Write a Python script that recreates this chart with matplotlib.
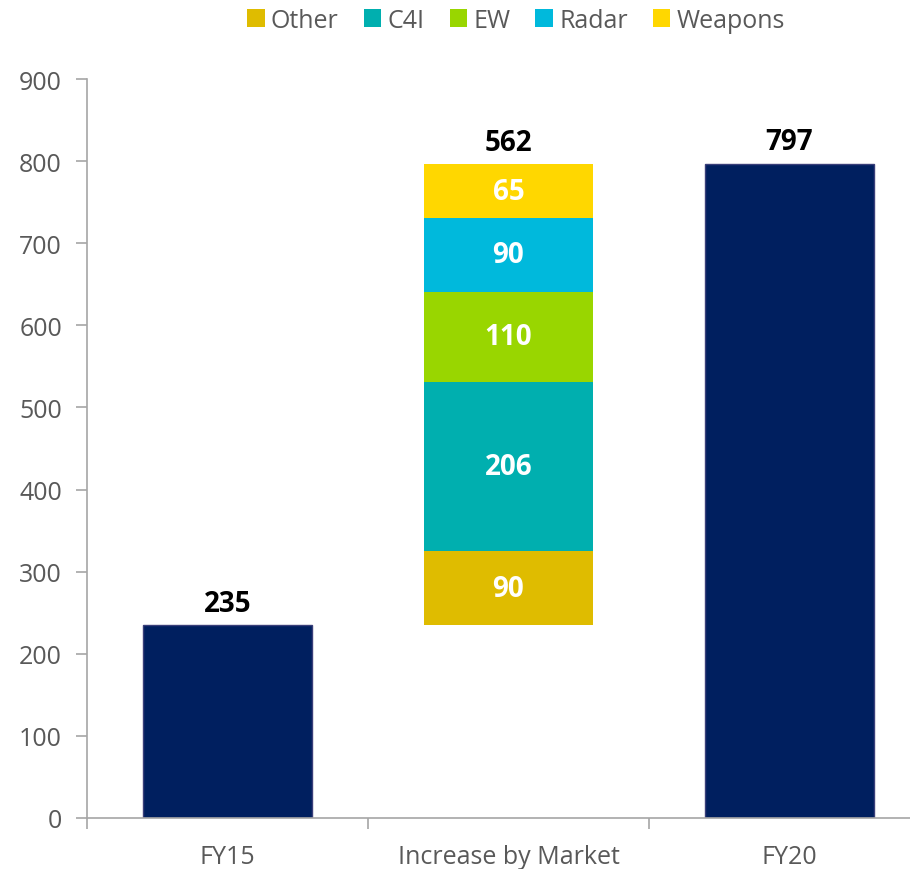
import numpy as np
import matplotlib
matplotlib.use("Agg")
import matplotlib.pyplot as plt
from matplotlib.patches import Patch

plt.rcParams['font.family'] = ['Open Sans', 'DejaVu Sans']

categories = ["FY15", "Increase by Market", "FY20"]
start_value = 235
end_value = 797
total_increase = 562

markets = ["Other", "C4I", "EW", "Radar", "Weapons"]
market_values = [90, 206, 110, 90, 65]
market_colors = ["#DFBC00", "#00AFAF", "#99D600", "#00B9DC", "#FFD700"]

navy = "#001F5F"
grey = "#A6A6A6"
text_grey = "#595959"

fig = plt.figure(figsize=(9.1, 8.7), dpi=100)
ax = fig.add_axes([87 / 910, 51 / 870, 843 / 910, 739 / 870])

x = np.arange(len(categories))
width = 0.6

# end points of the waterfall
ax.bar(x[0], start_value, width, color=navy, edgecolor="#3A3F7A", linewidth=1)
ax.bar(x[2], end_value, width, color=navy, edgecolor="#3A3F7A", linewidth=1)

# stacked increase, floating on top of FY15
bottom = start_value
for name, val, col in zip(markets, market_values, market_colors):
    ax.bar(x[1], val, width, bottom=bottom, color=col, label=name)
    ax.text(x[1], bottom + val / 2, str(val), ha="center", va="center",
            color="white", fontsize=20, fontweight="bold")
    bottom += val

label_kw = dict(ha="center", va="bottom", fontsize=20, fontweight="bold", color="black")
ax.text(x[0], start_value + 9, str(start_value), **label_kw)
ax.text(x[1], bottom + 9, str(total_increase), **label_kw)
ax.text(x[2], end_value + 9, str(end_value), **label_kw)

ax.set_xlim(-0.5, 2.5)
ax.set_ylim(0, 900)
ax.set_yticks(np.arange(0, 901, 100))

# category labels sit between boundary ticks
ax.set_xticks([-0.5, 0.5, 1.5, 2.5])
ax.set_xticklabels([])
ax.set_xticks(x, minor=True)
ax.set_xticklabels(categories, minor=True)
ax.tick_params(axis="x", which="minor", length=0, pad=19, labelsize=18, labelcolor=text_grey)
ax.tick_params(axis="x", which="major", length=8, color=grey, width=1.2)
ax.tick_params(axis="y", length=8, color=grey, width=1.2, labelsize=18,
               labelcolor=text_grey, pad=10)

for side in ["top", "right"]:
    ax.spines[side].set_visible(False)
for side in ["left", "bottom"]:
    ax.spines[side].set_color(grey)
    ax.spines[side].set_linewidth(1.2)

handles = [Patch(facecolor=c, label=m) for m, c in zip(markets, market_colors)]
fig.legend(handles=handles, loc="center", bbox_to_anchor=(516 / 910, 1 - 21 / 870),
           ncol=5, frameon=False, fontsize=18, handlelength=0.7, handleheight=0.7,
           handletextpad=0.25, columnspacing=1.0, labelcolor=text_grey)

fig.savefig("out.png", dpi=100)
